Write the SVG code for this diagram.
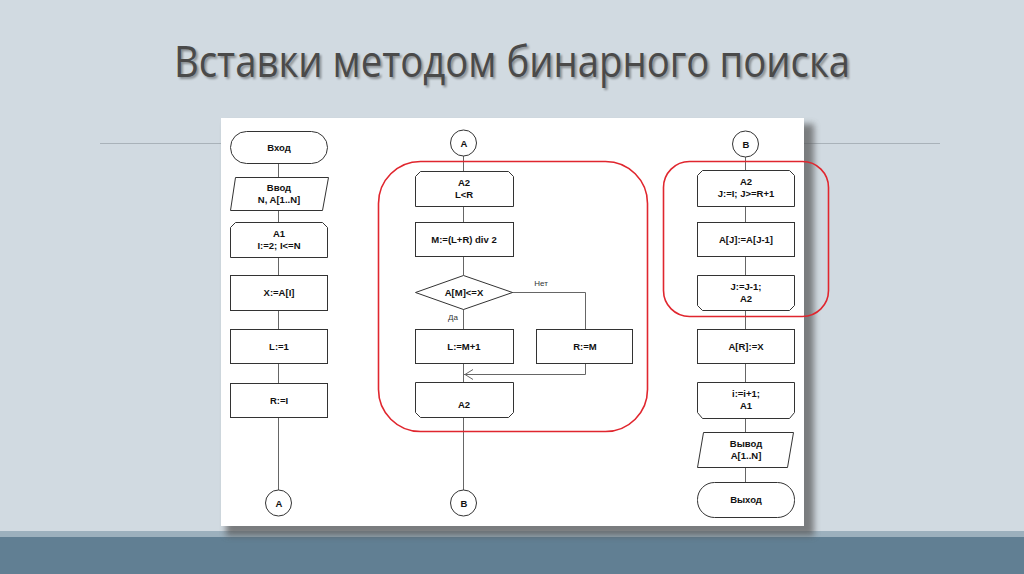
<svg xmlns="http://www.w3.org/2000/svg" width="1024" height="574" viewBox="0 0 1024 574">
<style>
.bx{fill:#fff;stroke:#333;stroke-width:1}
.ln{fill:none;stroke:#666;stroke-width:1}
.t{font-family:"Liberation Sans",Arial,sans-serif;font-weight:bold;font-size:9.5px;fill:#111;text-anchor:middle}
.s{font-family:"Liberation Sans",Arial,sans-serif;font-size:8px;fill:#333;text-anchor:middle}
.red{fill:none;stroke:#e0262e;stroke-width:1.6}
</style>
<defs>
<filter id="sh" x="-10%" y="-10%" width="120%" height="120%"><feGaussianBlur stdDeviation="3"/></filter>
<filter id="tsh" x="-5%" y="-20%" width="110%" height="150%"><feGaussianBlur stdDeviation="1.2"/></filter>
</defs>
<rect x="0" y="0" width="1024" height="574" fill="#d1dae1"/>
<rect x="0" y="531" width="1024" height="6" fill="#9cb0bd"/>
<rect x="0" y="537" width="1024" height="37" fill="#617f93"/>
<line x1="100" y1="143.5" x2="222" y2="143.5" stroke="#a9b2b9" stroke-width="1"/>
<line x1="804" y1="143.5" x2="940" y2="143.5" stroke="#a9b2b9" stroke-width="1"/>
<g id="title">
<text x="514" y="79" font-family="'Open Sans','Noto Sans',sans-serif" font-size="44" fill="#000" opacity="0.35" text-anchor="middle" textLength="676" lengthAdjust="spacingAndGlyphs" filter="url(#tsh)">Вставки методом бинарного поиска</text>
<text x="512" y="77" font-family="'Open Sans','Noto Sans',sans-serif" font-size="44" fill="#4a4a4a" text-anchor="middle" textLength="676" lengthAdjust="spacingAndGlyphs">Вставки методом бинарного поиска</text>
</g>
<rect x="226" y="124" width="588" height="412" fill="#555" opacity="0.7" filter="url(#sh)"/>
<rect x="221" y="118" width="583" height="408" fill="#fff"/>
<g id="connectors">
<path class="ln" d="M278.5 163V178M278.5 210V222M278.5 257V275M278.5 310V329M278.5 363V383M278.5 417V490"/>
<path class="ln" d="M463.5 156V171M463.5 206V222M463.5 256V275M463.5 309V329M463.5 363V382M463.5 417V490"/>
<path class="ln" d="M512 292.5H585.5V329M585.5 363V374.5H464"/>
<path class="ln" d="M473 369.5L465 374.5L473 379.5"/>
<path class="ln" d="M745.5 157V170M745.5 206V222M745.5 256V275M745.5 310V329M745.5 363V382M745.5 418V432M745.5 467V482"/>
</g>
<g id="n_vhod"><rect class="bx" x="230.5" y="131.5" width="97" height="32" rx="16"/><text class="t" x="279" y="151">Вход</text></g>
<g id="n_vvod"><polygon class="bx" points="235.5,177.5 328.5,177.5 322.5,210.5 230.5,210.5"/><text class="t" x="279" y="191">Ввод</text><text class="t" x="279" y="203">N, A[1..N]</text></g>
<g id="n_a1"><polygon class="bx" points="235.5,222.5 322.5,222.5 327.5,227.5 327.5,257.5 230.5,257.5 230.5,227.5"/><text class="t" x="279" y="237">A1</text><text class="t" x="279" y="249">I:=2; I&lt;=N</text></g>
<g id="n_x"><rect class="bx" x="230.5" y="275.5" width="97" height="35"/><text class="t" x="279" y="296">X:=A[I]</text></g>
<g id="n_l1"><rect class="bx" x="230.5" y="329.5" width="97" height="34"/><text class="t" x="279" y="350">L:=1</text></g>
<g id="n_ri"><rect class="bx" x="230.5" y="383.5" width="97" height="34"/><text class="t" x="279" y="404">R:=I</text></g>
<g id="n_ca1"><circle class="bx" cx="278.5" cy="503" r="13"/><text class="t" x="279" y="506.5">A</text></g>
<g id="n_ca2"><circle class="bx" cx="463.5" cy="143" r="13"/><text class="t" x="464" y="146.5">A</text></g>
<g id="n_a2s"><polygon class="bx" points="420.5,171.5 508.5,171.5 513.5,176.5 513.5,206.5 415.5,206.5 415.5,176.5"/><text class="t" x="464" y="186">A2</text><text class="t" x="464" y="198">L&lt;R</text></g>
<g id="n_m"><rect class="bx" x="415.5" y="222.5" width="98" height="34"/><text class="t" x="464" y="243">M:=(L+R) div 2</text></g>
<g id="n_d"><polygon class="bx" points="463.5,275.5 512.5,292.5 463.5,309.5 415.5,292.5"/><text class="t" x="464" y="296">A[M]&lt;=X</text><text class="s" x="541" y="286">Нет</text><text class="s" x="453" y="320">Да</text></g>
<g id="n_lm"><rect class="bx" x="415.5" y="329.5" width="98" height="34"/><text class="t" x="464" y="350">L:=M+1</text></g>
<g id="n_rm"><rect class="bx" x="536.5" y="329.5" width="96" height="34"/><text class="t" x="585" y="350">R:=M</text></g>
<g id="n_a2e"><polygon class="bx" points="415.5,382.5 513.5,382.5 513.5,412.5 508.5,417.5 420.5,417.5 415.5,412.5"/><text class="t" x="464" y="408">A2</text></g>
<g id="n_cb1"><circle class="bx" cx="463.5" cy="503" r="13"/><text class="t" x="464" y="506.5">B</text></g>
<rect id="hl1" class="red" x="378.5" y="161.5" width="269" height="270" rx="42"/>
<g id="n_cb2"><circle class="bx" cx="745.5" cy="144" r="13"/><text class="t" x="746" y="147.5">B</text></g>
<g id="n_a2j"><polygon class="bx" points="702.5,170.5 789.5,170.5 794.5,175.5 794.5,206.5 697.5,206.5 697.5,175.5"/><text class="t" x="746" y="185">A2</text><text class="t" x="746" y="197">J:=I; J&gt;=R+1</text></g>
<g id="n_aj"><rect class="bx" x="697.5" y="222.5" width="97" height="34"/><text class="t" x="746" y="243">A[J]:=A[J-1]</text></g>
<g id="n_jm"><polygon class="bx" points="697.5,275.5 794.5,275.5 794.5,305.5 789.5,310.5 702.5,310.5 697.5,305.5"/><text class="t" x="746" y="290">J:=J-1;</text><text class="t" x="746" y="302">A2</text></g>
<rect id="hl2" class="red" x="663.5" y="161.5" width="165" height="155" rx="26"/>
<g id="n_ar"><rect class="bx" x="697.5" y="329.5" width="97" height="34"/><text class="t" x="746" y="350">A[R]:=X</text></g>
<g id="n_ii"><polygon class="bx" points="697.5,382.5 794.5,382.5 794.5,412.5 789.5,418.5 702.5,418.5 697.5,412.5"/><text class="t" x="746" y="397">i:=i+1;</text><text class="t" x="746" y="409">A1</text></g>
<g id="n_vyvod"><polygon class="bx" points="703.5,432.5 793.5,432.5 787.5,467.5 697.5,467.5"/><text class="t" x="746" y="447">Вывод</text><text class="t" x="746" y="459">A[1..N]</text></g>
<g id="n_vyhod"><rect class="bx" x="697.5" y="482.5" width="97" height="35" rx="17"/><text class="t" x="746" y="503">Выход</text></g>
</svg>
